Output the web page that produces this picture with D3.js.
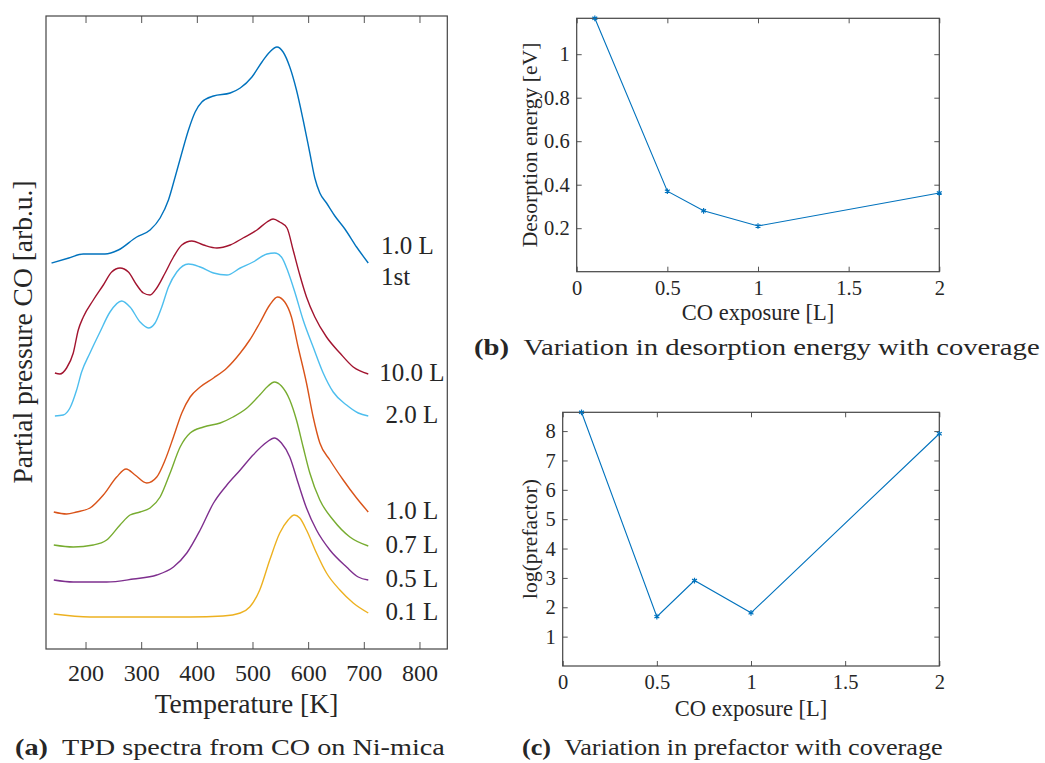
<!DOCTYPE html>
<html>
<head>
<meta charset="utf-8">
<script src="https://cdn.jsdelivr.net/npm/d3@7"></script>
<style>
  body { margin: 0; background: #fff; }
</style>
</head>
<body>
<svg id="fig" width="1045" height="763"></svg>
<script>
// ---- TPD spectra: [temperature K, partial pressure arb.u. incl. stacking offset] ----
const tpd01 = [[143,3.5],[208,3.2],[298,3.2],[388,3.2],[447,3.3],[478,3.6],[495,4.2],[513,5.9],[531,8.9],[549,11.6],[564,12.9],[575,13.4],[585,13.1],[597,11.9],[615,9.6],[633,7.6],[657,5.9],[681,4.6],[708,3.6]];
const tpd05 = [[143,6.9],[178,6.7],[238,6.7],[286,7.0],[328,7.4],[358,8.2],[382,9.6],[406,11.9],[430,14.6],[454,16.4],[478,17.9],[501,19.4],[526,20.7],[539,21.1],[552,20.6],[567,19.2],[582,16.6],[597,14.1],[615,11.9],[639,9.9],[669,8.2],[690,7.2],[708,6.9]];
const tpd07 = [[143,10.4],[178,10.2],[214,10.4],[238,10.9],[262,12.4],[280,13.4],[298,13.7],[316,14.1],[334,15.2],[352,17.6],[370,20.2],[388,21.6],[412,22.2],[442,22.6],[465,23.2],[490,24.1],[513,25.4],[528,26.3],[539,26.7],[552,26.3],[567,24.9],[579,22.9],[591,20.2],[603,17.6],[621,14.9],[645,12.9],[675,11.2],[708,10.3]];
const tpd10 = [[143,13.7],[166,13.5],[184,13.7],[208,14.1],[232,15.4],[256,17.2],[273,18.0],[289,17.4],[310,16.6],[328,17.2],[343,18.9],[358,21.2],[373,23.6],[388,25.2],[406,26.2],[430,27.1],[454,28.1],[478,29.6],[495,30.9],[513,32.6],[531,34.4],[545,35.2],[558,34.7],[570,33.2],[582,30.2],[597,26.6],[609,23.2],[621,20.6],[639,18.9],[663,16.9],[687,15.1],[708,13.7]];
const tpd20 = [[145,23.3],[160,23.4],[172,24.1],[184,25.9],[193,27.7],[208,29.6],[226,31.7],[244,33.7],[265,34.8],[280,34.2],[298,32.7],[313,32.1],[325,32.6],[337,34.2],[349,36.2],[364,37.7],[385,38.5],[406,38.2],[430,37.6],[454,37.4],[478,38.1],[501,38.7],[526,39.5],[540,39.6],[552,39.2],[564,37.7],[576,35.7],[591,32.9],[609,30.2],[627,27.6],[645,25.7],[669,24.4],[690,23.6],[708,23.3]];
const tpd100 = [[145,27.6],[154,27.5],[166,28.1],[178,29.6],[187,31.9],[196,33.2],[214,34.9],[232,36.4],[247,37.7],[262,38.1],[277,37.7],[292,36.4],[304,35.6],[316,35.4],[328,36.1],[343,37.6],[358,39.2],[373,40.4],[391,40.8],[412,40.4],[436,40.1],[460,40.4],[483,41.1],[508,41.9],[526,42.7],[537,43.0],[549,42.7],[562,42.1],[573,39.9],[585,37.4],[597,35.2],[612,33.2],[633,31.2],[657,29.6],[681,28.2],[708,27.5]];
const tpd10First = [[139,38.6],[170,39.1],[196,39.5],[235,39.5],[259,39.9],[292,41.2],[316,41.9],[334,43.1],[349,44.9],[361,47.2],[373,49.6],[385,51.9],[397,53.7],[409,54.7],[430,55.3],[460,55.6],[478,56.1],[499,57.2],[517,58.7],[531,59.7],[544,60.2],[555,59.7],[567,58.2],[579,55.9],[591,52.9],[603,49.6],[612,47.1],[621,45.6],[633,44.6],[648,43.3],[666,42.0],[687,40.2],[708,38.6]];
const tpdLabels = ["0.1 L", "0.5 L", "0.7 L", "1.0 L", "2.0 L", "10.0 L", "1.0 L"];
const tempTicks = [200, 300, 400, 500, 600, 700, 800];

// ---- Fitted parameters versus CO exposure ----
const exposure = [0.1, 0.5, 0.7, 1.0, 2.0];
const desorptionEnergy = [1.165, 0.37, 0.28, 0.21, 0.362];
const logPrefactor = [8.64, 1.68, 2.91, 1.81, 7.91];
const exposureTicks = [0, 0.5, 1, 1.5, 2];
const energyTicks = [0.2, 0.4, 0.6, 0.8, 1];
const prefactorTicks = [1, 2, 3, 4, 5, 6, 7, 8];

const serif = "'Liberation Serif', 'Times New Roman', Times, serif";
const ink = "#262626";
const lineBlue = "#0072BD";
const svg = d3.select("#fig").attr("font-family", serif);

function drawFrame(xs, ys, o) {
  const g = svg.append("g").style("color", ink);
  const [x0, x1] = xs.range();
  const [yb, yt] = ys.range();
  const fmt = d => String(d);
  g.append("g").attr("transform", `translate(0,${yb})`)
    .call(d3.axisBottom(xs).tickValues(o.xTicks).tickSizeInner(-o.tick).tickSizeOuter(0)
      .tickPadding(o.xPad).tickFormat(fmt));
  g.append("g").attr("transform", `translate(0,${yt})`)
    .call(d3.axisTop(xs).tickValues(o.xTicks).tickSizeInner(-o.tick).tickSizeOuter(0).tickFormat(""));
  if (o.yTicks) {
    g.append("g").attr("transform", `translate(${x0},0)`)
      .call(d3.axisLeft(ys).tickValues(o.yTicks).tickSizeInner(-o.tick).tickSizeOuter(0)
        .tickPadding(o.yPad).tickFormat(fmt));
    g.append("g").attr("transform", `translate(${x1},0)`)
      .call(d3.axisRight(ys).tickValues(o.yTicks).tickSizeInner(-o.tick).tickSizeOuter(0).tickFormat(""));
  }
  g.selectAll(".domain").remove();
  g.selectAll("g").attr("font-family", serif).attr("font-size", o.font);
  g.selectAll(".tick text").attr("font-family", serif).attr("font-size", o.font).attr("fill", ink);
  g.selectAll(".tick line").attr("stroke", "#555").attr("stroke-width", 1);
  g.append("rect")
    .attr("x", x0).attr("y", yt).attr("width", x1 - x0).attr("height", yb - yt)
    .attr("fill", "none").attr("stroke", "#444").attr("stroke-width", 1.2);
  return g;
}

function label(x, y, size, str) {
  return svg.append("text").attr("x", x).attr("y", y).attr("font-size", size)
    .attr("font-family", serif).attr("fill", ink).text(str);
}

function axisTitle(str, x, y, size, rotate) {
  const t = svg.append("text").attr("text-anchor", "middle").attr("font-size", size)
    .attr("font-family", serif).attr("fill", ink).text(str);
  if (rotate) t.attr("transform", `translate(${x},${y}) rotate(-90)`);
  else t.attr("x", x).attr("y", y);
}

// sub-figure caption, stretched horizontally to its printed width
function caption(tag, body, x, y, width) {
  const t = svg.append("text").attr("font-size", 22.5)
    .attr("font-family", serif).attr("fill", ink);
  t.append("tspan").attr("font-weight", "bold").text(tag);
  t.append("tspan").text("\u2002" + body);
  const w = t.node().getComputedTextLength();
  t.attr("transform", `translate(${x},${y}) scale(${width / w},1)`);
}

// ================= (a) TPD spectra =================
const xA = d3.scaleLinear().domain([129, 850]).range([46, 447.3]);
const yA = d3.scaleLinear().domain([0, 63.3]).range([649, 16]);
drawFrame(xA, yA, { xTicks: tempTicks, tick: 7, xPad: 15, font: 24 });

const tpdSeries = [
  { data: tpd01, color: "#EDB120" },
  { data: tpd05, color: "#7E2F8E" },
  { data: tpd07, color: "#77AC30" },
  { data: tpd10, color: "#D95319" },
  { data: tpd20, color: "#4DBEEE" },
  { data: tpd100, color: "#A2142F" },
  { data: tpd10First, color: "#0072BD" }
];
const tpdLine = d3.line().x(d => xA(d[0])).y(d => yA(d[1])).curve(d3.curveMonotoneX);
svg.append("g").attr("fill", "none")
  .selectAll("path").data(tpdSeries).join("path")
  .attr("d", s => tpdLine(s.data))
  .attr("stroke", s => s.color)
  .attr("stroke-width", 1.4)
  .attr("stroke-linejoin", "round");

// curve labels beside the high-temperature end of each spectrum
tpdSeries.forEach((s, i) => {
  const end = s.data[s.data.length - 1];
  const yEnd = yA(end[1]);
  if (i === tpdSeries.length - 1) {
    label(381, yEnd - 9, 25, tpdLabels[i]);
    label(381, yEnd + 22, 25, "1st");
  } else {
    label(412, yEnd + 7, 25, tpdLabels[i]).attr("text-anchor", "middle");
  }
});

axisTitle("Temperature [K]", 246.5, 713, 27.5, false);
axisTitle("Partial pressure CO [arb.u.]", 32, 332, 27.5, true);
caption("(a)", "TPD spectra from CO on Ni-mica", 15, 755, 430);

// ================= (b) desorption energy =================
const xB = d3.scaleLinear().domain([0, 2]).range([576.7, 939.3]);
const yB = d3.scaleLinear().domain([0, 1.165]).range([271.7, 18.3]);
drawFrame(xB, yB, { xTicks: exposureTicks, yTicks: energyTicks, tick: 5, xPad: 9, yPad: 7, font: 20.5 });

const energyPts = exposure.map((e, i) => [e, desorptionEnergy[i]]);
svg.append("path")
  .attr("d", d3.line().x(d => xB(d[0])).y(d => yB(d[1]))(energyPts))
  .attr("fill", "none").attr("stroke", lineBlue).attr("stroke-width", 1.1);
svg.append("g").selectAll("path").data(energyPts).join("path")
  .attr("transform", d => `translate(${xB(d[0])},${yB(d[1])})`)
  .attr("d", d3.symbol().type(d3.symbolAsterisk).size(22))
  .attr("fill", "none").attr("stroke", lineBlue).attr("stroke-width", 1.2);

axisTitle("CO exposure [L]", 758, 320, 22.5, false);
axisTitle("Desorption energy [eV]", 537, 145, 21.6, true);
caption("(b)", "Variation in desorption energy with coverage", 474, 355, 566);

// ================= (c) prefactor =================
const xC = d3.scaleLinear().domain([0, 2]).range([562.7, 939.3]);
const yC = d3.scaleLinear().domain([0, 8.64]).range([666, 412.3]);
drawFrame(xC, yC, { xTicks: exposureTicks, yTicks: prefactorTicks, tick: 5, xPad: 8, yPad: 7, font: 20.5 });

const prefPts = exposure.map((e, i) => [e, logPrefactor[i]]);
svg.append("path")
  .attr("d", d3.line().x(d => xC(d[0])).y(d => yC(d[1]))(prefPts))
  .attr("fill", "none").attr("stroke", lineBlue).attr("stroke-width", 1.1);
svg.append("g").selectAll("path").data(prefPts).join("path")
  .attr("transform", d => `translate(${xC(d[0])},${yC(d[1])})`)
  .attr("d", d3.symbol().type(d3.symbolAsterisk).size(22))
  .attr("fill", "none").attr("stroke", lineBlue).attr("stroke-width", 1.2);

axisTitle("CO exposure [L]", 751, 716, 22.5, false);
axisTitle("log(prefactor)", 537, 539, 21.6, true);
caption("(c)", "Variation in prefactor with coverage", 522, 755, 421);
</script>
</body>
</html>
